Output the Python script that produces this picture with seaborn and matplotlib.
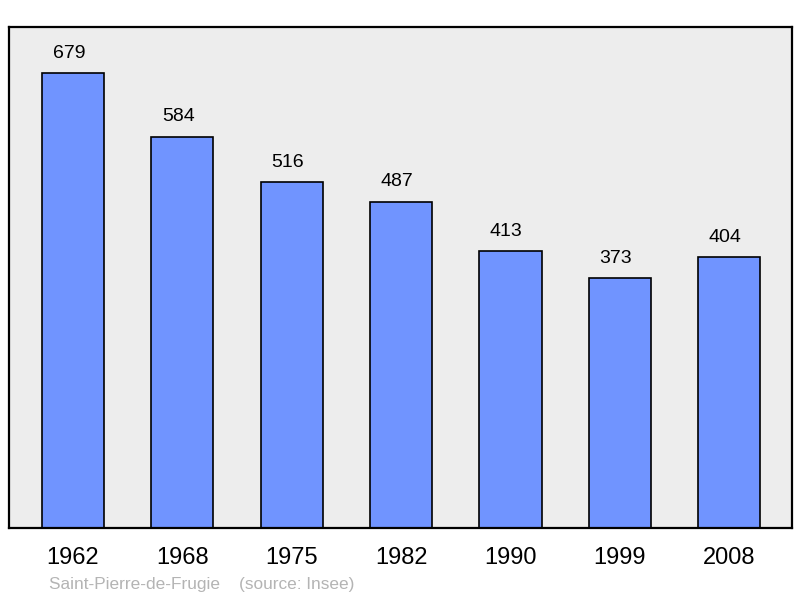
import matplotlib
matplotlib.use("Agg")
from matplotlib import pyplot as plt
import seaborn as sns
import pandas as pd

years = ["1962", "1968", "1975", "1982", "1990", "1999", "2008"]
population = [679, 584, 516, 487, 413, 373, 404]

sns.set_theme(style="white")
plt.rcParams["font.family"] = ["Liberation Sans", "DejaVu Sans"]

df = pd.DataFrame({"year": years, "pop": population})

fig = plt.figure(figsize=(8, 5.98), dpi=100)
ax = fig.add_axes([9 / 800, 70 / 598, 783 / 800, 501 / 598])
ax.set_facecolor("#ededed")

sns.barplot(data=df, x="year", y="pop", ax=ax, color="#7094ff", saturation=1,
            edgecolor="black", linewidth=1.2, width=0.57)

for i, v in enumerate(population):
    ax.annotate(str(v), (i, v), xytext=(-3, 14.5), textcoords="offset points",
                ha="center", va="center", fontsize=14, color="black")

ax.set_xlim(-0.585, 6.575)
ax.set_ylim(0, 748)
ax.set_yticks([])
ax.set_xlabel("")
ax.set_ylabel("")
ax.tick_params(axis="x", length=0, labelsize=17, pad=14, labelcolor="black")
for sp in ax.spines.values():
    sp.set_visible(True)
    sp.set_color("black")
    sp.set_linewidth(1.6)

fig.text(49 / 800, 1 - 584 / 598, "Saint-Pierre-de-Frugie    (source: Insee)",
         fontsize=12.4, color="#b4b4b4", va="center", ha="left")

fig.savefig("out.png", dpi=100, facecolor="white")
